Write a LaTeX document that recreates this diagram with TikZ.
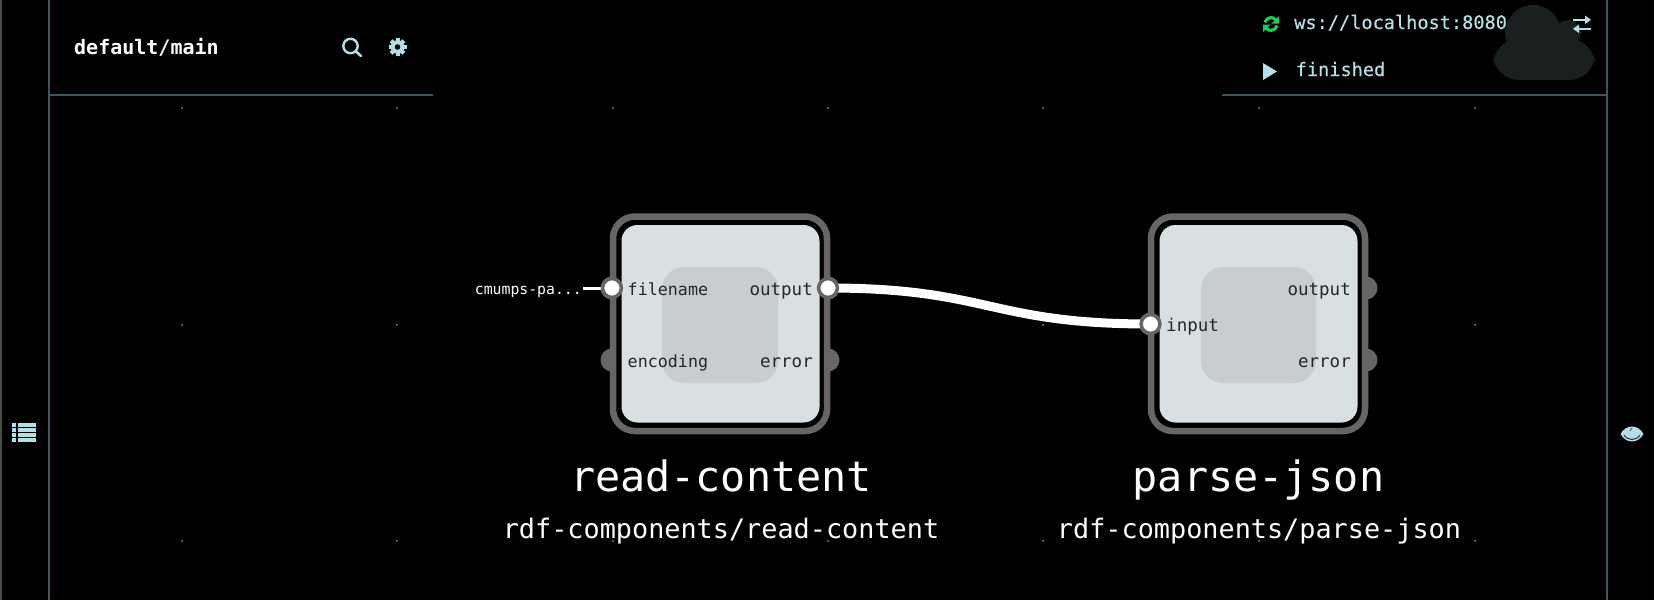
\documentclass[tikz,border=0pt]{standalone}
\usepackage{fontspec}
\setmonofont{DejaVu Sans Mono}
\newfontfamily\semimono[FakeBold=0.4]{DejaVu Sans Mono}
\definecolor{panel}{HTML}{3E5660}
\definecolor{ice}{HTML}{B4DFE7}
\definecolor{nodeborder}{HTML}{666666}
\definecolor{nodefill}{HTML}{D8E0E3}
\definecolor{nodecore}{HTML}{C8CDD1}
\definecolor{cloud}{HTML}{1A2020}
\definecolor{syncgreen}{HTML}{1FCB55}
\definecolor{griddot}{HTML}{585858}
\tikzset{
  txt/.style={font=\ttfamily\fontsize{#1}{#1}\selectfont,inner sep=0pt,anchor=base},
  statustxt/.style={font=\semimono\fontsize{18.6}{18.6}\selectfont,inner sep=0pt,anchor=base west,text=ice},
  porttxt/.style={txt=16.7,text=black!85,anchor=base west},
  porttxtb/.style={txt=17.5,text=black!85,anchor=base east},
  freeport/.style={circle,fill=nodeborder,minimum size=23pt,inner sep=0pt},
  usedport/.style={circle,draw=nodeborder,line width=3.5pt,fill=white,minimum size=18.8pt,inner sep=0pt},
  wire/.style={draw=white,line width=#1},
  outer/.style={draw=nodeborder,fill=black,line width=6.5pt,rounded corners=22pt},
  inner/.style={fill=nodefill,rounded corners=16pt},
  core/.style={fill=nodecore,rounded corners=22pt},
  frame/.style={draw=panel,line width=1.6pt},
}
\begin{document}
\begin{tikzpicture}[x=1pt,y=-1pt]
\useasboundingbox (0,0) rectangle (1654,600);
\fill[black] (0,0) rectangle (1654,600);
\fill[black!70] (0,0) rectangle (1.5,600);
% grid dots
\foreach \gx in {182,397,613,828,1043,1259,1475}
  \foreach \gy in {108,325,541}
    \fill[griddot] (\gx-0.7,\gy-0.7) rectangle (\gx+0.7,\gy+0.7);
% frame
\draw[frame] (49,0) -- (49,600);
\draw[frame] (1607,0) -- (1607,600);
\draw[frame] (49,95) -- (433,95);
\draw[frame] (1222,95) -- (1607,95);
% cloud
\fill[cloud] (1533,33) circle (28);
\fill[cloud] (1568,33) circle (13);
\fill[cloud,rounded corners=26pt] (1493,39) rectangle (1595,80);
% header texts
\node[inner sep=0pt,text=white,anchor=base west,font=\ttfamily\bfseries\fontsize{20}{20}\selectfont] (title) at (74,54) {default/main};
\node[statustxt] (ws) at (1294,29) {ws://localhost:8080};
\node[statustxt] (fin) at (1295.5,76) {finished};
% search
\draw[ice,line width=2.4pt] (350.5,46) circle (7.2);
\draw[ice,line width=2.6pt,line cap=round] (356,51.5) -- (361,56);
% gear
\begin{scope}[shift={(397.5,47)}]
\foreach \a in {0,45,...,315}
  \fill[ice,rotate=\a] (-2,-9) rectangle (2,0);
\fill[ice] (0,0) circle (6.8);
\fill[black] (0,0) circle (2.8);
\end{scope}
% sync
\begin{scope}[shift={(1271,24)}]
\draw[syncgreen,line width=3.2pt] (-6,-1.5) arc[start angle=195,end angle=320,radius=6.5];
\draw[syncgreen,line width=3.2pt] (6,1.5) arc[start angle=15,end angle=140,radius=6.5];
\fill[syncgreen] (8,-8) -- (8,-0.5) -- (0.5,-0.5) -- cycle;
\fill[syncgreen] (-8,8) -- (-8,0.5) -- (-0.5,0.5) -- cycle;
\end{scope}
% play
\fill[ice] (1263,63) -- (1277,71.5) -- (1263,80) -- cycle;
% transfer
\fill[ice] (1573,18.5) rectangle (1585,21);
\fill[ice] (1585,15.5) -- (1591,19.8) -- (1585,24) -- cycle;
\fill[ice] (1579,27.5) rectangle (1591,30);
\fill[ice] (1579,24.5) -- (1573,28.8) -- (1579,33) -- cycle;
% side icons
\foreach \ry in {423,428,433,438}
  {\fill[ice] (12,\ry) rectangle (16,\ry+3.8);
   \fill[ice] (17.5,\ry) rectangle (36,\ry+3.8);}
\fill[ice] (1620.5,434) .. controls (1626,424) and (1638,424) .. (1643.5,434)
   .. controls (1638,444) and (1626,444) .. (1620.5,434) -- cycle;
\draw[black!80,line width=1pt] (1624,435) .. controls (1628,441) and (1636,441) .. (1640,435);
\draw[panel,line width=0.8pt] (1630,431) -- (1632,428);
% ports and wires (below the boxes)
\coordinate (srcend) at (583,288);
\node[freeport] (afile) at (612,288) {};
\node[freeport] (aenc)  at (612,360) {};
\node[freeport] (aout)  at (828,288) {};
\node[freeport] (aerr)  at (828,360) {};
\node[freeport] (binp)  at (1150.5,324) {};
\node[freeport] (bout)  at (1366,288) {};
\node[freeport] (berr)  at (1366,360) {};
\draw[wire=3pt] (srcend) -- (afile.center);
\draw[wire=9pt] (aout.center) .. controls (989,288) and (989,324) .. (binp.center);
% boxes
\draw[outer] (613,216.5) rectangle (827,431);
\draw[outer] (1151,216.5) rectangle (1365,431);
\fill[inner] (621.5,225) rectangle (819.5,422.5);
\fill[inner] (1159.5,225) rectangle (1357.5,422.5);
\fill[core] (662,267) rectangle (778,383);
\fill[core] (1201,267) rectangle (1316,383);
\node[usedport] at (afile.center) {};
\node[usedport] at (aout.center) {};
\node[usedport] at (binp.center) {};
% port texts
\node[porttxt] (lf) at (627.5,295) {filename};
\node[porttxt] (le) at (627.5,367) {encoding};
\node[porttxtb] (lo) at (813,295) {output};
\node[porttxtb] (lr) at (813,367) {error};
\node[txt=17.5,text=black!85,anchor=base west] (li) at (1166,331) {input};
\node[porttxtb] (mo) at (1351,295) {output};
\node[porttxtb] (mr) at (1351,367) {error};
\node[txt=14.8,text=white,anchor=base east] (src) at (582,294) {cmumps-pa...};
% titles
\node[txt=41.8,text=white] (ta) at (721,491) {read-content};
\node[txt=41.8,text=white] (tb) at (1258.5,491) {parse-json};
\node[txt=26.85,text=white] (sa) at (721,538) {rdf-components/read-content};
\node[txt=26.85,text=white] (sb) at (1259,538) {rdf-components/parse-json};
\end{tikzpicture}
\end{document}
